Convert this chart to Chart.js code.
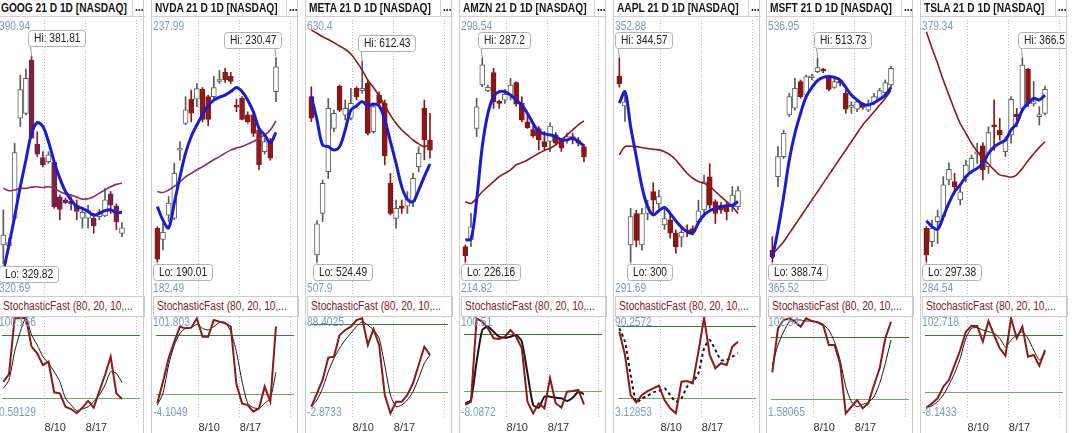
<!DOCTYPE html>
<html>
<head>
<meta charset="utf-8">
<title>NASDAQ 21 D 1D</title>
<script src="https://cdn.jsdelivr.net/npm/chart.js@4.4.1/dist/chart.umd.min.js"></script>
<style>
  html, body { margin: 0; padding: 0; background: #fff; }
  #board { position: relative; width: 1073px; height: 433px; overflow: hidden; font-family: "Liberation Sans", Arial, sans-serif; }
  .panel { position: absolute; top: 0; width: 147px; height: 433px; }
  .edge { position: absolute; top: 0; width: 1px; height: 433px; background: #cdcdcd; }
  .title { position: absolute; left: 1px; top: 0; width: 131px; height: 16px; border-bottom: 1px solid #d0d0d0; color: #151515; font-weight: bold; font-size: 12px; line-height: 16px; padding-left: 3px; white-space: nowrap; overflow: hidden; }
  .more { position: absolute; left: 135px; top: 0; width: 10px; height: 16px; border-left: 1px solid #d0d0d0; border-bottom: 1px solid #d0d0d0; color: #151515; font-weight: bold; font-size: 12px; line-height: 15px; padding-left: 2px; overflow: hidden; white-space: nowrap; }
  .sub { position: absolute; left: 2px; top: 296px; width: 141px; height: 19px; border: 1px solid #cbcbcb; background: #fff; color: #7b1e27; font-size: 12px; line-height: 19px; padding-left: 3px; white-space: nowrap; overflow: hidden; }
  .sq { display: inline-block; transform: scaleX(0.85); transform-origin: 0 50%; }
  canvas.price { position: absolute; left: 0; top: 17px; }
  canvas.stoch { position: absolute; left: 0; top: 314px; }
</style>
</head>
<body>
<div id="board"></div>
<script>
// ---- panels, axis bounds, ticks ----
const tickers = ['GOOG', 'NVDA', 'META', 'AMZN', 'AAPL', 'MSFT', 'TSLA'];
const priceMax = [390.94, 237.99, 630.4, 298.54, 352.88, 536.95, 379.34];
const priceMin = [320.69, 182.49, 507.9, 214.82, 291.69, 365.52, 284.54];
const stochMax = [100.166, 101.803, 88.4025, 100.51, 90.2572, 102.54, 102.718];
const stochMin = [0.59129, -4.1049, -2.8733, -8.0872, 3.12853, 1.58065, -8.1433];
const weekTicks = [7.3, 14.6, 23.6];
const weekLabels = ['8/10', '8/17', ''];
const stochLevels = [80, 20];
const dayIndex = Array.from({length: 22}, (_, i) => i);

// ---- GOOG ----
const googOpen  = [334.5, 334.3, 341.2, 366.3, 367.5, 380.9, 359.8, 356.4, 355.4, 355.2, 346.6, 345.8, 345.5, 344.5, 341.2, 341.2, 341.2, 341.6, 341.8, 347.3, 344.3, 337.4];
const googHigh  = [343.3, 336.2, 360.0, 377.1, 378.6, 381.81, 362.9, 357.9, 357.9, 355.4, 347.0, 346.2, 346.6, 345.8, 343.4, 344.5, 342.4, 343.4, 348.7, 347.9, 344.8, 340.1];
const googLow   = [329.82, 333.7, 340.8, 364.2, 367.1, 361.3, 356.7, 354.1, 355.0, 343.7, 340.8, 344.9, 343.3, 340.8, 338.7, 338.7, 337.4, 340.8, 341.6, 342.4, 338.3, 336.6];
const googClose = [337.0, 335.1, 357.7, 373.5, 376.3, 361.3, 357.3, 354.6, 357.1, 344.1, 343.4, 345.1, 344.8, 342.9, 342.7, 343.1, 339.3, 342.9, 345.8, 344.5, 340.3, 338.8];
const googFast  = [327.8, 334.5, 341.6, 349.1, 355.8, 362.5, 365.2, 364.2, 360.4, 355.4, 351.2, 347.9, 345.8, 344.1, 343.7, 342.9, 342.0, 342.4, 343.1, 343.3, 342.6, 342.7];
const googSlow  = [348.7, 348.1, 348.3, 348.7, 348.7, 349.0, 349.1, 348.9, 349.1, 348.7, 347.9, 347.3, 347.0, 346.5, 346.0, 346.1, 346.6, 347.5, 348.3, 349.1, 349.7, 350.0];
const googK     = [35.4, 42.4, 96.0, 96.0, 96.6, 68.9, 62.5, 51.3, 54.5, 25.2, 24.2, 11.4, 9.2, 5.1, 10.5, 16.9, 10.5, 26.4, 41.8, 59.3, 24.2, 18.8];
const googD     = [29.0, 37.0, 64.1, 83.2, 96.6, 80.1, 70.5, 59.3, 53.0, 44.9, 35.4, 19.5, 13.1, 7.3, 9.2, 11.4, 16.2, 22.6, 32.2, 44.9, 43.4, 34.8];

// ---- NVDA ----
const nvdaOpen  = [196.7, 194.5, 199.3, 198.7, 212.2, 217.5, 222.3, 222.3, 224.3, 222.8, 222.8, 225.8, 227.6, 226.8, 221.1, 222.5, 219.2, 219.2, 216.2, 211.9, 214.0, 223.8];
const nvdaHigh  = [197.0, 197.7, 203.0, 209.6, 213.9, 222.8, 224.1, 225.4, 224.6, 223.1, 226.8, 228.0, 228.4, 227.6, 222.3, 222.8, 219.8, 219.5, 216.5, 214.5, 214.5, 230.47];
const nvdaLow   = [190.01, 192.4, 198.0, 198.4, 210.2, 217.2, 217.8, 220.8, 217.8, 217.0, 222.1, 225.4, 225.6, 225.4, 219.8, 218.2, 217.5, 214.9, 208.3, 211.4, 210.2, 221.8];
const nvdaClose = [190.6, 195.9, 201.7, 207.6, 212.6, 220.2, 219.5, 224.4, 218.3, 218.3, 224.6, 226.1, 226.1, 225.8, 220.7, 218.3, 217.8, 215.5, 209.3, 213.9, 210.6, 228.7];
const nvdaFast  = [201.0, 198.3, 196.8, 201.7, 206.9, 211.6, 214.9, 217.2, 219.2, 221.0, 222.1, 222.7, 223.1, 223.8, 224.6, 223.8, 222.1, 219.8, 216.5, 215.2, 213.7, 215.7];
const nvdaSlow  = [204.0, 203.8, 204.3, 205.0, 205.9, 206.9, 207.6, 208.3, 208.9, 209.6, 210.3, 210.9, 211.6, 212.2, 212.6, 212.9, 213.4, 213.9, 214.5, 215.2, 216.2, 218.0];
const nvdaK     = [10.8, 32.9, 56.7, 73.6, 88.9, 87.2, 87.9, 97.4, 78.7, 78.7, 95.7, 94.0, 92.3, 88.9, 30.2, 10.8, 9.1, 2.3, 5.7, 27.8, 12.5, 88.9];
const nvdaD     = [9.1, 21.0, 49.9, 70.2, 82.1, 87.2, 87.9, 91.3, 87.2, 85.5, 88.9, 93.3, 93.3, 83.8, 63.4, 32.9, 10.8, 6.4, 5.7, 10.8, 16.0, 42.4];

// ---- META ----
const metaOpen  = [596.9, 527.6, 545.8, 564.0, 583.0, 601.5, 588.8, 587.4, 600.5, 599.5, 602.7, 581.5, 597.6, 593.9, 558.9, 543.6, 549.0, 549.0, 550.9, 566.2, 591.8, 577.9];
const metaHigh  = [601.2, 542.6, 560.4, 596.1, 591.0, 602.0, 595.4, 600.5, 601.2, 612.43, 604.1, 593.9, 599.0, 595.4, 563.3, 551.6, 551.6, 555.3, 563.3, 575.0, 595.4, 589.6];
const metaLow   = [585.9, 524.49, 542.2, 561.1, 581.5, 590.3, 586.7, 586.7, 595.4, 598.3, 580.1, 580.8, 592.5, 567.0, 545.1, 539.3, 545.8, 545.8, 548.7, 564.0, 569.2, 569.9];
const metaClose = [587.4, 541.2, 558.9, 591.8, 589.6, 591.0, 591.8, 593.9, 596.9, 600.5, 580.8, 592.5, 593.9, 570.9, 545.8, 548.0, 548.0, 552.0, 561.1, 572.1, 577.9, 573.5];
const metaFast  = [596.9, 586.7, 575.7, 575.0, 573.5, 575.0, 582.3, 591.0, 592.8, 594.7, 592.8, 593.7, 592.8, 586.7, 577.2, 567.7, 557.5, 551.9, 550.9, 556.0, 561.9, 567.4];
const metaSlow  = [626.0, 624.6, 623.1, 621.9, 620.5, 619.0, 617.6, 615.5, 612.2, 608.5, 604.1, 600.9, 597.2, 593.2, 588.8, 585.2, 582.3, 580.1, 577.9, 576.2, 575.0, 576.2];
const metaK     = [7.0, 18.8, 30.5, 50.1, 51.0, 70.0, 74.4, 77.3, 83.1, 84.6, 61.2, 75.2, 61.2, 17.3, 1.2, 11.4, 11.4, 17.3, 27.6, 43.6, 59.7, 52.4];
const metaD     = [7.0, 12.9, 23.2, 37.8, 49.5, 58.3, 65.6, 71.5, 77.3, 81.6, 78.7, 74.4, 67.1, 43.6, 17.3, 7.0, 8.5, 12.9, 20.2, 32.0, 45.1, 52.4];

// ---- AMZN ----
const amznOpen  = [230.8, 232.8, 266.1, 279.1, 277.4, 282.8, 274.1, 274.6, 276.1, 279.8, 273.6, 268.1, 265.8, 266.1, 262.2, 262.2, 264.2, 262.7, 262.5, 263.7, 262.5, 260.7];
const amznHigh  = [231.3, 240.7, 275.1, 287.2, 279.1, 284.1, 274.6, 277.8, 281.1, 280.1, 275.6, 270.6, 266.8, 266.7, 265.2, 267.9, 264.9, 263.2, 264.7, 264.7, 263.4, 261.2];
const amznLow   = [226.16, 230.8, 263.7, 278.6, 277.1, 272.1, 272.1, 273.6, 274.6, 272.8, 268.1, 266.1, 263.4, 259.7, 259.7, 259.2, 261.2, 259.2, 261.7, 261.5, 260.9, 256.2];
const amznClose = [228.0, 236.7, 272.6, 285.1, 278.4, 274.1, 273.6, 276.3, 279.1, 273.4, 268.6, 266.3, 263.9, 262.7, 260.7, 266.8, 261.7, 260.2, 263.7, 262.7, 261.7, 257.7];
const amznFast  = [232.8, 233.0, 244.7, 260.7, 270.6, 275.6, 277.1, 277.1, 276.1, 274.6, 273.1, 270.6, 267.6, 265.2, 264.5, 264.2, 263.7, 262.7, 262.7, 263.2, 262.2, 260.9];
const amznSlow  = [244.2, 243.7, 245.2, 247.2, 248.7, 250.2, 251.7, 252.7, 253.7, 255.2, 255.9, 256.7, 257.7, 258.7, 259.5, 260.2, 261.2, 262.7, 264.2, 265.7, 267.2, 268.4];
const amznK     = [5.5, 9.0, 96.0, 92.5, 85.6, 75.1, 74.4, 76.8, 83.8, 76.8, 64.7, 9.0, -3.2, 7.3, 2.1, 33.4, 7.3, 2.7, 19.4, 20.1, 21.2, 6.2];
const amznD     = [7.3, 10.7, 50.7, 83.8, 87.2, 82.0, 76.8, 75.8, 76.8, 78.6, 71.6, 38.6, 5.5, 2.7, 14.2, 14.2, 13.1, 12.5, 9.7, 13.1, 19.4, 16.7];

// ---- AAPL ----
const aaplOpen  = [340.6, 334.1, 303.7, 310.6, 303.7, 310.6, 315.4, 312.7, 308.1, 309.2, 306.3, 305.4, 307.0, 307.3, 308.8, 311.4, 318.6, 313.2, 312.4, 312.1, 312.1, 312.1];
const aaplHigh  = [344.57, 336.9, 311.7, 311.3, 311.7, 313.5, 317.3, 315.7, 311.7, 310.6, 307.0, 307.7, 308.1, 307.9, 313.5, 319.0, 321.5, 313.6, 313.0, 313.2, 316.5, 316.5];
const aaplLow   = [338.2, 330.7, 300, 303.3, 302.6, 309.2, 310.6, 311.7, 307.1, 305.2, 301.9, 303.3, 305.5, 305.9, 308.3, 309.9, 311.7, 308.4, 310.6, 309.2, 311.0, 311.4];
const aaplClose = [338.9, 335.0, 309.9, 304.7, 310.6, 312.1, 313.5, 314.3, 309.5, 306.3, 303.3, 306.5, 306.6, 306.6, 311.2, 317.5, 312.4, 310.6, 311.3, 311.0, 314.6, 315.6];
const aaplFast  = [334.7, 337.2, 329.6, 323.0, 316.5, 312.1, 310.3, 311.2, 311.9, 310.6, 309.0, 307.6, 306.6, 306.3, 308.6, 310.3, 311.2, 311.7, 312.1, 312.3, 312.4, 313.2];
const aaplSlow  = [323.4, 325.2, 325.3, 325.2, 325.0, 324.8, 324.6, 324.5, 324.1, 323.4, 322.3, 320.8, 319.4, 318.3, 317.6, 317.2, 316.5, 315.4, 314.3, 313.2, 312.1, 310.6];
const aaplK     = [75.4, 55.9, 22.4, 16.3, 22.4, 25.7, 28.0, 30.2, 18.2, 11.3, 7.1, 33.5, 34.1, 32.2, 58.7, 87.2, 55.9, 44.8, 49.0, 47.5, 62.9, 67.0];
const aaplD     = [78.3, 67.0, 39.2, 16.3, 19.6, 21.8, 24.7, 25.7, 28.0, 22.4, 16.8, 19.6, 29.4, 33.5, 40.6, 61.5, 68.5, 60.1, 51.7, 51.7, 54.5, 57.3];

// ---- MSFT ----
const msftOpen  = [396.1, 441.0, 453.3, 478.8, 482.9, 499.2, 491.0, 501.6, 505.3, 506.7, 501.8, 495.7, 499.0, 492.0, 483.5, 482.3, 485.5, 481.8, 486.3, 489.0, 492.5, 497.2];
const msftHigh  = [404.3, 459.4, 469.6, 492.0, 501.2, 500.2, 503.3, 503.9, 513.73, 507.4, 502.7, 500.6, 499.8, 494.1, 486.9, 488.4, 486.3, 488.0, 492.0, 495.1, 500.2, 508.8];
const msftLow   = [388.74, 434.9, 452.2, 477.8, 481.8, 489.0, 490.0, 500.2, 504.7, 504.7, 493.7, 495.1, 496.6, 479.8, 479.8, 480.8, 482.3, 480.8, 484.9, 488.0, 491.0, 495.7];
const msftClose = [392.0, 453.3, 467.6, 490.0, 495.1, 490.0, 502.3, 502.7, 507.8, 505.7, 494.5, 499.2, 498.2, 482.3, 484.3, 486.9, 483.5, 485.5, 490.0, 493.7, 498.6, 507.4];
const msftFast  = [391.0, 408.4, 428.8, 451.2, 467.6, 479.8, 490.0, 495.7, 499.8, 501.8, 502.3, 501.8, 500.2, 495.7, 491.0, 488.0, 485.5, 484.9, 486.3, 488.4, 491.0, 495.7];
const msftSlow  = [393.1, 397.2, 401.2, 406.3, 411.4, 416.5, 421.6, 426.7, 431.8, 436.9, 442.1, 447.2, 452.3, 457.4, 462.5, 467.6, 472.7, 476.7, 480.8, 484.9, 489.0, 493.7];
const msftK     = [45.9, 88.6, 96.7, 98.3, 95.0, 90.2, 98.3, 95.7, 94.4, 91.8, 72.4, 72.4, 54.6, 6.1, 12.5, 19.0, 11.0, 15.8, 33.6, 49.8, 78.9, 95.0];
const msftD     = [53.0, 72.4, 85.3, 95.0, 96.7, 96.7, 95.7, 95.7, 95.0, 92.5, 87.0, 75.6, 57.8, 32.0, 17.4, 12.5, 14.9, 16.8, 22.2, 35.2, 54.6, 77.3];

// ---- TSLA ----
const tslaOpen  = [308.8, 304.3, 311.1, 312.8, 325.2, 324.6, 318.4, 326.3, 328.0, 334.0, 336.7, 329.7, 343.8, 342.1, 334.8, 340.4, 347.5, 349.4, 362.6, 350.9, 346.6, 347.7];
const tslaHigh  = [309.4, 311.6, 315.0, 326.3, 331.0, 327.4, 323.5, 331.9, 333.6, 337.6, 337.8, 343.2, 352.3, 346.0, 339.8, 353.4, 349.4, 366.5, 363.0, 358.5, 350.0, 357.0];
const tslaLow   = [297.38, 302.6, 303.7, 311.6, 323.5, 321.8, 316.7, 324.6, 327.4, 330.8, 325.2, 327.4, 335.3, 338.7, 333.1, 337.6, 343.2, 348.9, 350.0, 350.2, 343.8, 347.2];
const tslaClose = [299.8, 308.8, 312.8, 323.5, 328.8, 322.9, 321.2, 330.2, 332.5, 334.5, 328.6, 341.2, 343.2, 340.4, 338.7, 352.5, 346.6, 364.1, 351.1, 351.7, 347.2, 355.9];
const tslaFast  = [311.4, 309.4, 308.5, 312.8, 317.3, 321.2, 323.5, 326.3, 328.0, 329.1, 330.8, 334.2, 336.4, 337.6, 338.7, 342.1, 344.3, 348.9, 351.1, 352.8, 352.3, 353.9];
const tslaSlow  = [375.4, 369.8, 364.7, 359.0, 353.9, 348.9, 344.3, 341.0, 337.6, 334.8, 332.5, 330.6, 328.6, 326.9, 326.5, 326.1, 326.9, 329.1, 331.7, 334.0, 336.2, 338.1];
const tslaK     = [2.8, 7.5, 12.8, 25.2, 32.3, 48.3, 64.3, 83.8, 90.2, 89.9, 73.2, 95.2, 80.3, 66.1, 58.2, 98.1, 76.8, 89.2, 57.2, 59.0, 47.6, 64.3];
const tslaD     = [2.2, 5.0, 9.2, 16.4, 27.0, 39.5, 55.5, 76.8, 87.5, 88.1, 85.6, 83.8, 82.1, 76.8, 67.8, 75.0, 80.3, 83.8, 76.8, 64.3, 53.7, 60.8];

const series = {
  GOOG: {open: googOpen, high: googHigh, low: googLow, close: googClose, fast: googFast, slow: googSlow, k: googK, d: googD},
  NVDA: {open: nvdaOpen, high: nvdaHigh, low: nvdaLow, close: nvdaClose, fast: nvdaFast, slow: nvdaSlow, k: nvdaK, d: nvdaD},
  META: {open: metaOpen, high: metaHigh, low: metaLow, close: metaClose, fast: metaFast, slow: metaSlow, k: metaK, d: metaD},
  AMZN: {open: amznOpen, high: amznHigh, low: amznLow, close: amznClose, fast: amznFast, slow: amznSlow, k: amznK, d: amznD},
  AAPL: {open: aaplOpen, high: aaplHigh, low: aaplLow, close: aaplClose, fast: aaplFast, slow: aaplSlow, k: aaplK, d: aaplD},
  MSFT: {open: msftOpen, high: msftHigh, low: msftLow, close: msftClose, fast: msftFast, slow: msftSlow, k: msftK, d: msftD},
  TSLA: {open: tslaOpen, high: tslaHigh, low: tslaLow, close: tslaClose, fast: tslaFast, slow: tslaSlow, k: tslaK, d: tslaD}
};

// per panel looks
const looks = {
  GOOG: {down: '#7b2048', slow: '#8e2b6b', dWidth: 1, dDash: []},
  NVDA: {down: '#8b1a1a', slow: '#8e2b6b', dWidth: 1, dDash: []},
  META: {down: '#8b1616', slow: '#8b1a1a', dWidth: 1, dDash: []},
  AMZN: {down: '#8b1616', slow: '#8b1a1a', dWidth: 2, dDash: []},
  AAPL: {down: '#8b1616', slow: '#8b1a1a', dWidth: 2, dDash: [3, 3]},
  MSFT: {down: '#8b1616', slow: '#8b1a1a', dWidth: 1, dDash: []},
  TSLA: {down: '#8b1616', slow: '#8b1a1a', dWidth: 1, dDash: []}
};

const SQUEEZE = 0.85;
const FONT = '"Liberation Sans", Arial, sans-serif';
const AXIS_BLUE = '#7d9cbc';
const X_MIN = -1.12, X_MAX = 24.9;

Chart.defaults.font.family = FONT;

function squeezed(ctx, text, x, y, color, baseline) {
  ctx.save();
  ctx.font = '12px ' + FONT;
  ctx.fillStyle = color;
  ctx.textBaseline = baseline;
  ctx.textAlign = 'left';
  ctx.translate(x, y);
  ctx.scale(SQUEEZE, 1);
  ctx.fillText(text, 0, 0);
  ctx.restore();
}

function roundBox(ctx, x, y, w, h, r) {
  ctx.beginPath();
  ctx.moveTo(x + r, y);
  ctx.lineTo(x + w - r, y);
  ctx.quadraticCurveTo(x + w, y, x + w, y + r);
  ctx.lineTo(x + w, y + h - r);
  ctx.quadraticCurveTo(x + w, y + h, x + w - r, y + h);
  ctx.lineTo(x + r, y + h);
  ctx.quadraticCurveTo(x, y + h, x, y + h - r);
  ctx.lineTo(x, y + r);
  ctx.quadraticCurveTo(x, y, x + r, y);
  ctx.closePath();
}

function callout(ctx, area, text, px, py, above, toLeft) {
  ctx.save();
  ctx.font = '12px ' + FONT;
  const bw = Math.round(ctx.measureText(text).width * SQUEEZE + 11);
  const bh = 16;
  let bx = Math.round(toLeft ? px + 5 - bw : px - 4);
  if (bx < area.left + 1) bx = area.left + 1;
  const by = Math.round(above ? py - 10 - bh : py + 2);
  ctx.strokeStyle = '#9c9c9c';
  ctx.lineWidth = 1;
  ctx.beginPath();
  if (above) { ctx.moveTo(px, py); ctx.lineTo(px - 1, by + bh); }
  else { ctx.moveTo(px, py); ctx.lineTo(bx + 4, by + 1); }
  ctx.stroke();
  roundBox(ctx, bx + 0.5, by + 0.5, bw, bh, 3);
  ctx.fillStyle = '#fff';
  ctx.fill();
  ctx.strokeStyle = '#b2b2b2';
  ctx.stroke();
  squeezed(ctx, text, bx + 6, by + bh / 2 + 1, '#222', 'middle');
  ctx.restore();
}

function xAxis(showLabels) {
  return {
    type: 'linear', min: X_MIN, max: X_MAX, offset: false,
    afterBuildTicks: s => { s.ticks = weekTicks.map(v => ({value: v})); },
    afterFit: s => { s.height = showLabels ? 15 : 0; },
    grid: {color: '#bcbcbc', lineWidth: 1, drawTicks: false, offset: false},
    border: {display: false, dash: [1, 2]},
    ticks: {
      display: showLabels, autoSkip: false, maxRotation: 0, align: 'start', padding: 3,
      color: '#333', font: {size: 11},
      callback: (v, i) => weekLabels[i]
    }
  };
}

function pricePlugin(s) {
  return {
    id: 'priceMarks',
    afterDatasetsDraw(chart) {
      const {ctx, chartArea: a, scales: {x, y}} = chart;
      squeezed(ctx, String(y.max), a.left + 2, a.top + 1, AXIS_BLUE, 'top');
      squeezed(ctx, String(y.min), a.left + 2, a.bottom - 8, AXIS_BLUE, 'alphabetic');
      const hiVal = Math.max(...s.high), loVal = Math.min(...s.low);
      const hiIdx = s.high.indexOf(hiVal), loIdx = s.low.indexOf(loVal);
      callout(ctx, a, 'Hi: ' + hiVal, x.getPixelForValue(hiIdx), y.getPixelForValue(hiVal), true, hiIdx >= 19);
      callout(ctx, a, 'Lo: ' + loVal, x.getPixelForValue(loIdx), y.getPixelForValue(loVal), false, loIdx >= 19);
    }
  };
}

const stochPlugin = {
  id: 'stochMarks',
  beforeDatasetsDraw(chart) {
    const {ctx, chartArea: a, scales: {y}} = chart;
    ctx.save();
    ctx.lineWidth = 1.2;
    stochLevels.forEach((lv, k) => {
      const yy = Math.round(y.getPixelForValue(lv)) + 0.5;
      ctx.strokeStyle = k === 0 ? '#3c7a3c' : '#72aa64';
      ctx.beginPath();
      ctx.moveTo(a.left + 5, yy);
      ctx.lineTo(a.right - 4, yy);
      ctx.stroke();
    });
    ctx.restore();
  },
  afterDatasetsDraw(chart) {
    const {ctx, chartArea: a, scales: {y}} = chart;
    squeezed(ctx, String(y.max), a.left + 2, a.top + 3, AXIS_BLUE, 'top');
    squeezed(ctx, String(y.min), a.left + 2, a.bottom - 2, AXIS_BLUE, 'alphabetic');
  }
};

const board = document.getElementById('board');

tickers.forEach((t, i) => {
  const s = series[t], look = looks[t];
  const panel = document.createElement('div');
  panel.className = 'panel';
  panel.style.left = Math.round(-2.6 + 153.8 * i) + 'px';
  panel.innerHTML =
    '<canvas class="price" width="147" height="283"></canvas>' +
    '<canvas class="stoch" width="147" height="119"></canvas>' +
    '<div class="title"><span class="sq">' + t + ' 21 D 1D [NASDAQ]</span></div>' +
    '<div class="more"><span class="sq">...</span></div>' +
    '<div class="sub"><span class="sq">StochasticFast (80, 20, 10,...</span></div>' +
    '<div class="edge" style="left:0"></div><div class="edge" style="left:146px"></div>';
  board.appendChild(panel);

  const up = s.close.map((c, k) => c >= s.open[k]);

  new Chart(panel.querySelector('canvas.price'), {
    type: 'line',
    data: {
      labels: dayIndex,
      datasets: [
        {data: s.fast, borderColor: '#1b1bcf', borderWidth: 3, pointRadius: 0, tension: 0.35, fill: false, order: 0},
        {data: s.slow, borderColor: look.slow, borderWidth: 1.6, pointRadius: 0, tension: 0.35, fill: false, order: 1},
        {type: 'bar', data: s.open.map((o, k) => [o, s.close[k]]),
         backgroundColor: up.map(u => u ? '#ffffff' : look.down),
         borderColor: up.map(u => u ? '#56645a' : look.down),
         borderWidth: 1, borderSkipped: false, barThickness: 5, grouped: false, minBarLength: 2, order: 2},
        {type: 'bar', data: s.low.map((l, k) => [l, s.high[k]]),
         backgroundColor: up.map(u => u ? '#5a5a5a' : look.down),
         borderWidth: 0, barThickness: 1, grouped: false, order: 3}
      ]
    },
    options: {
      responsive: false, animation: false, events: [],
      layout: {padding: {top: 3, left: 0, right: 0, bottom: 0}},
      plugins: {legend: {display: false}, tooltip: {enabled: false}},
      scales: {
        x: xAxis(false),
        y: {display: false, min: priceMin[i], max: priceMax[i]}
      }
    },
    plugins: [pricePlugin(s)]
  });

  new Chart(panel.querySelector('canvas.stoch'), {
    type: 'line',
    data: {
      labels: dayIndex,
      datasets: [
        {data: s.k, borderColor: '#8b1a1a', borderWidth: 2, pointRadius: 0, tension: 0, fill: false, order: 0},
        {data: s.d, borderColor: '#161616', borderWidth: look.dWidth, borderDash: look.dDash, pointRadius: 0, tension: 0.2, fill: false, order: 1}
      ]
    },
    options: {
      responsive: false, animation: false, events: [],
      layout: {padding: 0},
      plugins: {legend: {display: false}, tooltip: {enabled: false}},
      scales: {
        x: xAxis(true),
        y: {display: false, min: stochMin[i], max: stochMax[i]}
      }
    },
    plugins: [stochPlugin]
  });
});
</script>
</body>
</html>
